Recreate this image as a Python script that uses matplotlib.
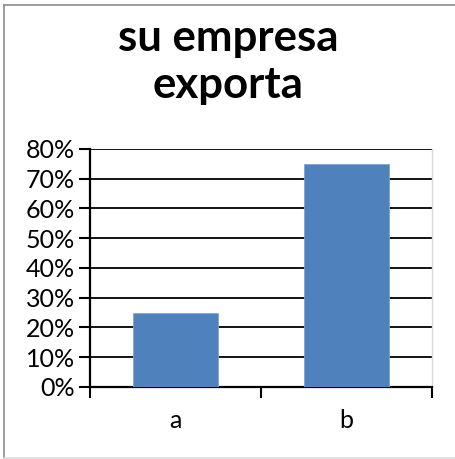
import matplotlib
matplotlib.use("Agg")
import matplotlib.pyplot as plt
from matplotlib.lines import Line2D

# Chart data
categories = ["a", "b"]
shares = [25, 75]  # percent
y_ticks = [0, 10, 20, 30, 40, 50, 60, 70, 80]
y_labels = [f"{v}%" for v in y_ticks]
title = "su empresa\nexporta"

plt.rcParams["font.family"] = ["Lato", "DejaVu Sans"]

fig = plt.figure(figsize=(4.56, 4.59), dpi=100)
ax = fig.add_axes([0.1974, 0.1569, 0.750, 0.5185])

x = list(range(len(categories)))
ax.bar(x, shares, width=0.5, color="#4F81BD", edgecolor="#7FA3D0",
       linewidth=0.6, zorder=3)

ax.set_xlim(-0.5, len(categories) - 0.5)
ax.set_ylim(0, 80)
ax.set_yticks(y_ticks)
ax.set_yticklabels(y_labels, fontsize=18)

# category labels centred between boundary ticks
ax.set_xticks(x)
ax.set_xticklabels(categories, fontsize=18)
ax.tick_params(axis="x", which="major", length=0, pad=16)
ax.set_xticks([i - 0.5 for i in range(len(categories) + 1)], minor=True)
ax.tick_params(axis="x", which="minor", length=8, width=1.5, color="black",
               direction="out")
ax.tick_params(axis="y", length=8, width=1.5, color="black", direction="out",
               pad=3)

ax.yaxis.grid(True, color="black", linewidth=1.3, zorder=1)
ax.set_axisbelow(True)

ax.spines["left"].set_linewidth(1.6)
ax.spines["bottom"].set_linewidth(1.6)
ax.spines["top"].set_visible(False)
ax.spines["right"].set_color("#D9D9D9")
ax.spines["right"].set_linewidth(1.0)

fig.text(0.50, 0.7865, title, ha="center", va="baseline", fontsize=31.5,
         fontweight="bold", linespacing=1.2, multialignment="center")

# outer chart frame
fig.add_artist(Line2D([0.008, 0.008], [0.002, 0.989], color="#8C8C8C",
                      linewidth=1.2, transform=fig.transFigure))
fig.add_artist(Line2D([0.008, 1.0], [0.989, 0.989], color="#8C8C8C",
                      linewidth=1.2, transform=fig.transFigure))
fig.add_artist(Line2D([0.008, 1.0], [0.003, 0.003], color="#DDDDDD",
                      linewidth=1.2, transform=fig.transFigure))

fig.savefig("out.png", dpi=100, facecolor="white")
